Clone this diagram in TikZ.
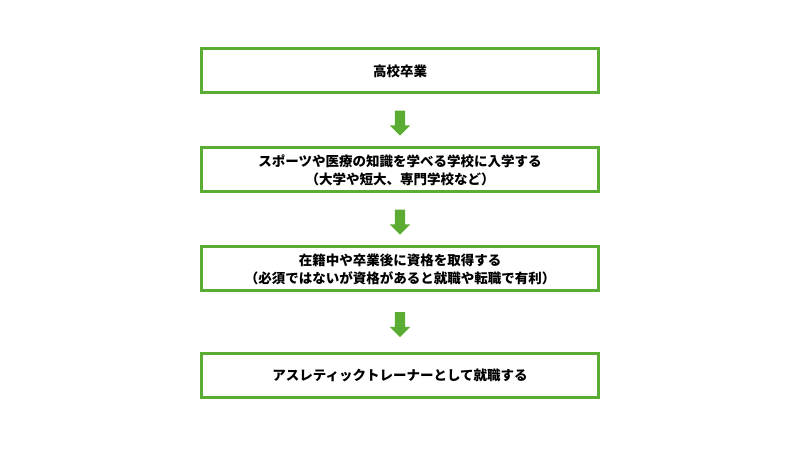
\documentclass[tikz,border=0pt]{standalone}
\usepackage{fontspec}
\setmainfont{Noto Sans CJK JP}
\usetikzlibrary{positioning,shapes.arrows,calc}
\definecolor{stepgreen}{HTML}{5AAD32}
\begin{document}
\begin{tikzpicture}[x=1pt,y=1pt,
  box/.style={draw=stepgreen, line width=3pt, minimum width=397pt, minimum height=44pt, align=center, font=\bfseries\fontsize{13.5}{18}\selectfont},
  downarrow/.style={single arrow, fill=stepgreen, draw=none, shape border rotate=270, minimum height=25pt, minimum width=20pt, single arrow head extend=5pt, inner sep=5pt}
]
\useasboundingbox (0,0) rectangle (800,450);
\node[box] (hs) at (400,379) {高校卒業};
\node[box] (school) at (400,280) {スポーツや医療の知識を学べる学校に入学する\\（大学や短大、専門学校など）};
\node[box] (cert) at (400,181) {在籍中や卒業後に資格を取得する\\（必須ではないが資格があると就職や転職で有利）};
\node[box] (job) at (400,75) {アスレティックトレーナーとして就職する};
\node[downarrow] (a1) at ($(hs.south)!0.5!(school.north)$) {};
\node[downarrow] (a2) at ($(school.south)!0.5!(cert.north)$) {};
\node[downarrow] (a3) at ($(cert.south)!0.5!(job.north)$) {};
\end{tikzpicture}
\end{document}
